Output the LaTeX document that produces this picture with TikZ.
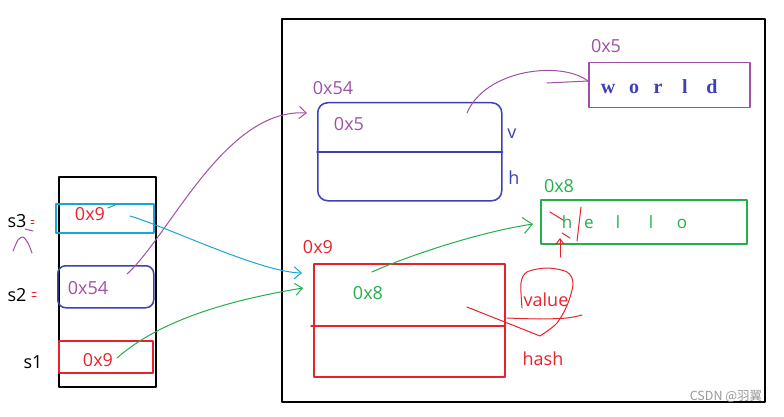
\documentclass[tikz,border=0pt]{standalone}
\usepackage{fontspec}
\setmainfont{Open Sans}
\newfontfamily\serifbold{Liberation Serif}
\newfontfamily\cjk{Noto Sans CJK SC}
\usetikzlibrary{arrows.meta}

\definecolor{rosso}{RGB}{230,35,45}
\definecolor{viola}{RGB}{160,80,165}
\definecolor{blu}{RGB}{60,65,180}
\definecolor{ciano}{RGB}{25,165,215}
\definecolor{verde}{RGB}{35,175,75}

\begin{document}
\begin{tikzpicture}[x=1pt, y=-1pt, line cap=round, line join=round]
	% Stili
	\tikzset{
		scatola/.style={draw, anchor=north west, inner sep=0pt, line width=1.5pt},
		etichetta/.style={inner sep=0pt, font=\fontsize{18}{20}\selectfont},
		lettera/.style={inner sep=0pt, anchor=base},
		freccia/.style={line width=1pt, -{Straight Barb[length=7pt, width=12pt]}},
		tratto/.style={line width=1pt}
	}
	\useasboundingbox[fill=white] (0,0) rectangle (784,417);

	% Riquadro dello heap
	\node[scatola, line width=1.6pt, minimum width=483pt, minimum height=383pt] (heap) at (281,18) {};

	% Stack con le tre variabili
	\node[scatola, line width=2pt, minimum width=97pt, minimum height=210pt] (stack) at (58,176) {};
	\node[scatola, draw=ciano, line width=2pt, minimum width=98pt, minimum height=29pt] (cs3) at (55,203) {};
	\node[scatola, draw=blu, rounded corners=8pt, minimum width=96pt, minimum height=42pt] (cs2) at (57,265) {};
	\node[scatola, draw=rosso, minimum width=94pt, minimum height=32pt] (cs1) at (58,340) {};
	\node[etichetta, rosso] (vs3) at (90,214) {0x9};
	\node[etichetta, viola] (vs2) at (88,288) {0x54};
	\node[etichetta, rosso] (vs1) at (98,360) {0x9};
	\node[etichetta] (s3) at (17,221) {s3};
	\node[etichetta] (s2) at (17,295) {s2};
	\node[etichetta] (s1) at (33,362) {s1};

	% Oggetto 0x54
	\node[scatola, draw=blu, rounded corners=10pt, minimum width=184pt, minimum height=98pt] (o54) at (317,102) {};
	\draw[blu, line width=1.5pt] (o54.west) -- (o54.east);
	\node[etichetta, viola] (l54) at (333,88) {0x54};
	\node[etichetta, viola] (v54) at (349,124) {0x5};
	\node[etichetta, blu] (fv) at (512,134) {v};
	\node[etichetta, blu] (fh) at (514,178) {h};

	% Stringa world
	\node[scatola, draw=viola, minimum width=161pt, minimum height=45pt] (world) at (588,62) {};
	\node[etichetta, viola] (l5) at (606,46) {0x5};
	\foreach \x/\c [count=\i] in {608/w,634/o,658/r,685/l,712/d}
		\node[lettera, blu, font=\serifbold\bfseries\fontsize{20}{22}\selectfont] (w\i) at (\x,94) {\c};

	% Stringa hello
	\node[scatola, draw=verde, minimum width=206pt, minimum height=44pt] (hello) at (540,199) {};
	\node[etichetta, verde] (l8) at (559,186) {0x8};
	\foreach \x/\c [count=\i] in {567/h,589/e,618/l,651/l,682/o}
		\node[lettera, verde, font=\fontsize{17}{19}\selectfont] (h\i) at (\x,228) {\c};

	% Oggetto 0x9
	\node[scatola, draw=rosso, minimum width=191pt, minimum height=113pt] (o9) at (313,263) {};
	\draw[rosso, line width=1.5pt] ([xshift=-2pt, yshift=-5.5pt]o9.west) -- ([yshift=-5.5pt]o9.east);
	\node[etichetta, rosso] (l9) at (318,247) {0x9};
	\node[etichetta, verde] (v9) at (368,293) {0x8};
	\node[etichetta, rosso] (fvalue) at (546,300) {value};
	\node[etichetta, rosso] (fhash) at (543,359) {hash};

	% Punti di partenza e di arrivo delle frecce
	\coordinate (p2) at (127,274);
	\coordinate (a54) at (307,113);
	\coordinate (p3) at (130,216);
	\coordinate (a9a) at (302,273);
	\coordinate (p1) at (117,358);
	\coordinate (a9b) at (303,288);
	\coordinate (p5) at (467,113);
	\coordinate (aw) at (588,81);
	\coordinate (p8) at (372,272);
	\coordinate (ah) at (533,224);

	% Frecce
	\draw[freccia, viola] (p2) .. controls (170,235) and (225,108) .. (a54);
	\draw[freccia, ciano] (p3) .. controls (170,228) and (260,272) .. (a9a);
	\draw[freccia, verde] (p1) .. controls (160,320) and (230,300) .. (a9b);
	\draw[tratto, viola] (p5) .. controls (485,70) and (560,60) .. (aw);
	\draw[tratto, viola] (547,83) -- (aw);
	\draw[freccia, verde, -{Straight Barb[length=9pt, width=16pt]}] (p8) .. controls (410,255) and (480,232) .. (ah);

	% Segni a mano
	\draw[tratto, rosso, -{Straight Barb[length=6pt, width=9pt]}] (560,257) -- (560,238);
	\draw[tratto, rosso] (550,212) -- (563,220);
	\draw[tratto, rosso] (562,233) -- (570,238);
	\draw[tratto, rosso] (581,207) -- (577,241);
	\draw[tratto, rosso] (467,307) -- (540,336)
		plot[smooth] coordinates {(540,336) (557,323) (568,303) (573,283) (567,272) (547,268) (527,272) (521,283) (522,308)};
	\draw[tratto, rosso] plot[smooth] coordinates {(507,318) (540,319) (567,318) (582,315)};
	\draw[tratto, rosso] (31,220) -- (34,220) (31,223) -- (34,223);
	\draw[tratto, rosso] (32,292) -- (36,292) (32,296) -- (36,296);
	\draw[tratto, viola] plot[smooth] coordinates {(13,251) (18,240) (23,237) (28,243) (32,253)};
	\draw[tratto, viola] (25,229) -- (33,231);
	\draw[tratto, verde] (108,208) -- (115,205);

	% Filigrana
	\node[inner sep=0pt, text=black!40, font=\cjk\fontsize{12.5}{14}\selectfont] (csdn) at (726,397) {CSDN @羽翼};
\end{tikzpicture}
\end{document}
